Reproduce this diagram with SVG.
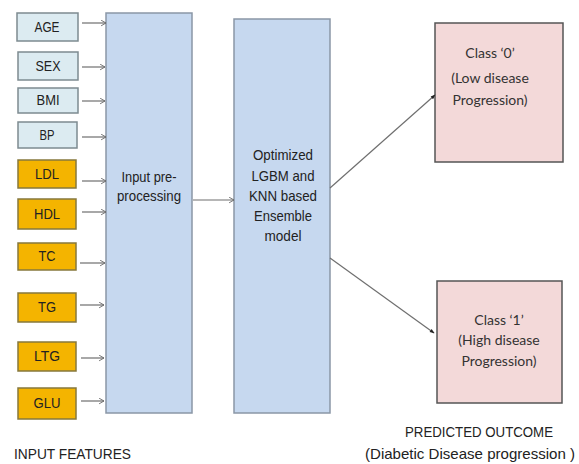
<svg xmlns="http://www.w3.org/2000/svg" width="579" height="464" viewBox="0 0 579 464">
<defs>
<marker id="open" viewBox="0 0 10 10" refX="9" refY="5" markerWidth="7" markerHeight="7" orient="auto" markerUnits="userSpaceOnUse">
<polyline points="2,1 9,5 2,9" fill="none" stroke="#6a6a6a" stroke-width="1.3"/>
</marker>
<marker id="dot" viewBox="0 0 10 10" refX="8" refY="5" markerWidth="6" markerHeight="6" orient="auto" markerUnits="userSpaceOnUse">
<path d="M1,2 L9,5 L1,8 Z" fill="#222"/>
</marker>
<style>
.feat{fill:#dcebf1;stroke:#7d8b90;stroke-width:1.5}
.lab{fill:#f4b400;stroke:#86783c;stroke-width:1.5}
.big{fill:#c6d8ef;stroke:#8a97a6;stroke-width:1.5}
.cls{fill:#f3d9d9;stroke:#555;stroke-width:1.5}
.t{font-family:"Liberation Sans",Arial,sans-serif;font-size:14px;fill:#222;text-anchor:middle}
.c{font-family:Lato,"Liberation Sans",sans-serif;font-size:14px;fill:#333;text-anchor:middle}
.cap{font-family:"Liberation Sans",Arial,sans-serif;font-size:15px;fill:#222}
.con{fill:none;stroke:#6f6f6f;stroke-width:1.2}
</style>
</defs>
<rect width="579" height="464" fill="#fff"/>
<g id="age"><rect class="feat" x="17" y="13" width="61" height="28"/><text class="t" x="47" y="32" textLength="25" lengthAdjust="spacingAndGlyphs">AGE</text></g>
<g id="sex"><rect class="feat" x="18" y="52" width="60" height="28"/><text class="t" x="48" y="71" textLength="25" lengthAdjust="spacingAndGlyphs">SEX</text></g>
<g id="bmi"><rect class="feat" x="18" y="88" width="60" height="25"/><text class="t" x="48" y="105" textLength="23" lengthAdjust="spacingAndGlyphs">BMI</text></g>
<g id="bp"><rect class="feat" x="18" y="122" width="59" height="26"/><text class="t" x="47" y="140" textLength="15" lengthAdjust="spacingAndGlyphs">BP</text></g>
<g id="ldl"><rect class="lab" x="18" y="160" width="58" height="28"/><text class="t" x="47" y="179" textLength="24" lengthAdjust="spacingAndGlyphs">LDL</text></g>
<g id="hdl"><rect class="lab" x="18" y="199" width="58" height="30"/><text class="t" x="47" y="219" textLength="26" lengthAdjust="spacingAndGlyphs">HDL</text></g>
<g id="tc"><rect class="lab" x="18" y="243" width="58" height="27"/><text class="t" x="47" y="261" textLength="17" lengthAdjust="spacingAndGlyphs">TC</text></g>
<g id="tg"><rect class="lab" x="18" y="293" width="58" height="29"/><text class="t" x="47" y="312" textLength="18" lengthAdjust="spacingAndGlyphs">TG</text></g>
<g id="ltg"><rect class="lab" x="18" y="342" width="58" height="29"/><text class="t" x="47" y="361" textLength="26" lengthAdjust="spacingAndGlyphs">LTG</text></g>
<g id="glu"><rect class="lab" x="18" y="388" width="58" height="31"/><text class="t" x="47" y="408" textLength="27" lengthAdjust="spacingAndGlyphs">GLU</text></g>
<g id="prep"><rect class="big" x="106" y="13" width="86" height="400"/>
<text class="t" x="149" y="182" textLength="55" lengthAdjust="spacingAndGlyphs">Input pre-</text>
<text class="t" x="149" y="201" textLength="64" lengthAdjust="spacingAndGlyphs">processing</text></g>
<g id="ens"><rect class="big" x="234" y="19" width="96" height="394"/>
<text class="t" x="283" y="160" textLength="60" lengthAdjust="spacingAndGlyphs">Optimized</text>
<text class="t" x="283" y="181" textLength="63" lengthAdjust="spacingAndGlyphs">LGBM and</text>
<text class="t" x="283" y="201" textLength="68" lengthAdjust="spacingAndGlyphs">KNN based</text>
<text class="t" x="283" y="221" textLength="58" lengthAdjust="spacingAndGlyphs">Ensemble</text>
<text class="t" x="283" y="241" textLength="37" lengthAdjust="spacingAndGlyphs">model</text></g>
<g id="class0"><rect class="cls" x="435" y="23" width="128" height="139"/>
<text class="c" x="490" y="58">Class  ‘0’</text><text class="c" x="490" y="83">(Low disease</text><text class="c" x="490" y="105">Progression)</text></g>
<g id="class1"><rect class="cls" x="437" y="281" width="125" height="122"/>
<text class="c" x="499" y="325">Class ‘1’</text><text class="c" x="499" y="345">(High  disease</text><text class="c" x="499" y="366">Progression)</text></g>
<g id="connectors">
<line class="con" x1="82" y1="23" x2="106" y2="23" marker-end="url(#open)"/>
<line class="con" x1="82" y1="67" x2="105" y2="67" marker-end="url(#open)"/>
<line class="con" x1="82" y1="101" x2="105" y2="101" marker-end="url(#open)"/>
<line class="con" x1="82" y1="137" x2="106" y2="137" marker-end="url(#open)"/>
<line class="con" x1="82" y1="181" x2="106" y2="181" marker-end="url(#open)"/>
<line class="con" x1="82" y1="212" x2="106" y2="212" marker-end="url(#open)"/>
<line class="con" x1="80" y1="263" x2="105" y2="263" marker-end="url(#open)"/>
<line class="con" x1="80" y1="305" x2="104" y2="305" marker-end="url(#open)"/>
<line class="con" x1="81" y1="358" x2="104" y2="358" marker-end="url(#open)"/>
<line class="con" x1="81" y1="401" x2="104" y2="401" marker-end="url(#open)"/>
<line class="con" x1="193" y1="200" x2="234" y2="200" marker-end="url(#open)"/>
<line class="con" x1="330" y1="188" x2="435" y2="95" marker-end="url(#dot)"/>
<line class="con" x1="330" y1="258" x2="434" y2="333" marker-end="url(#dot)"/>
</g>
<text class="cap" x="14" y="459" textLength="117" lengthAdjust="spacingAndGlyphs">INPUT  FEATURES</text>
<text class="cap" x="479" y="437" text-anchor="middle" textLength="148" lengthAdjust="spacingAndGlyphs">PREDICTED  OUTCOME</text>
<text class="cap" x="365" y="459" textLength="210" lengthAdjust="spacingAndGlyphs">(Diabetic Disease progression )</text>
</svg>
